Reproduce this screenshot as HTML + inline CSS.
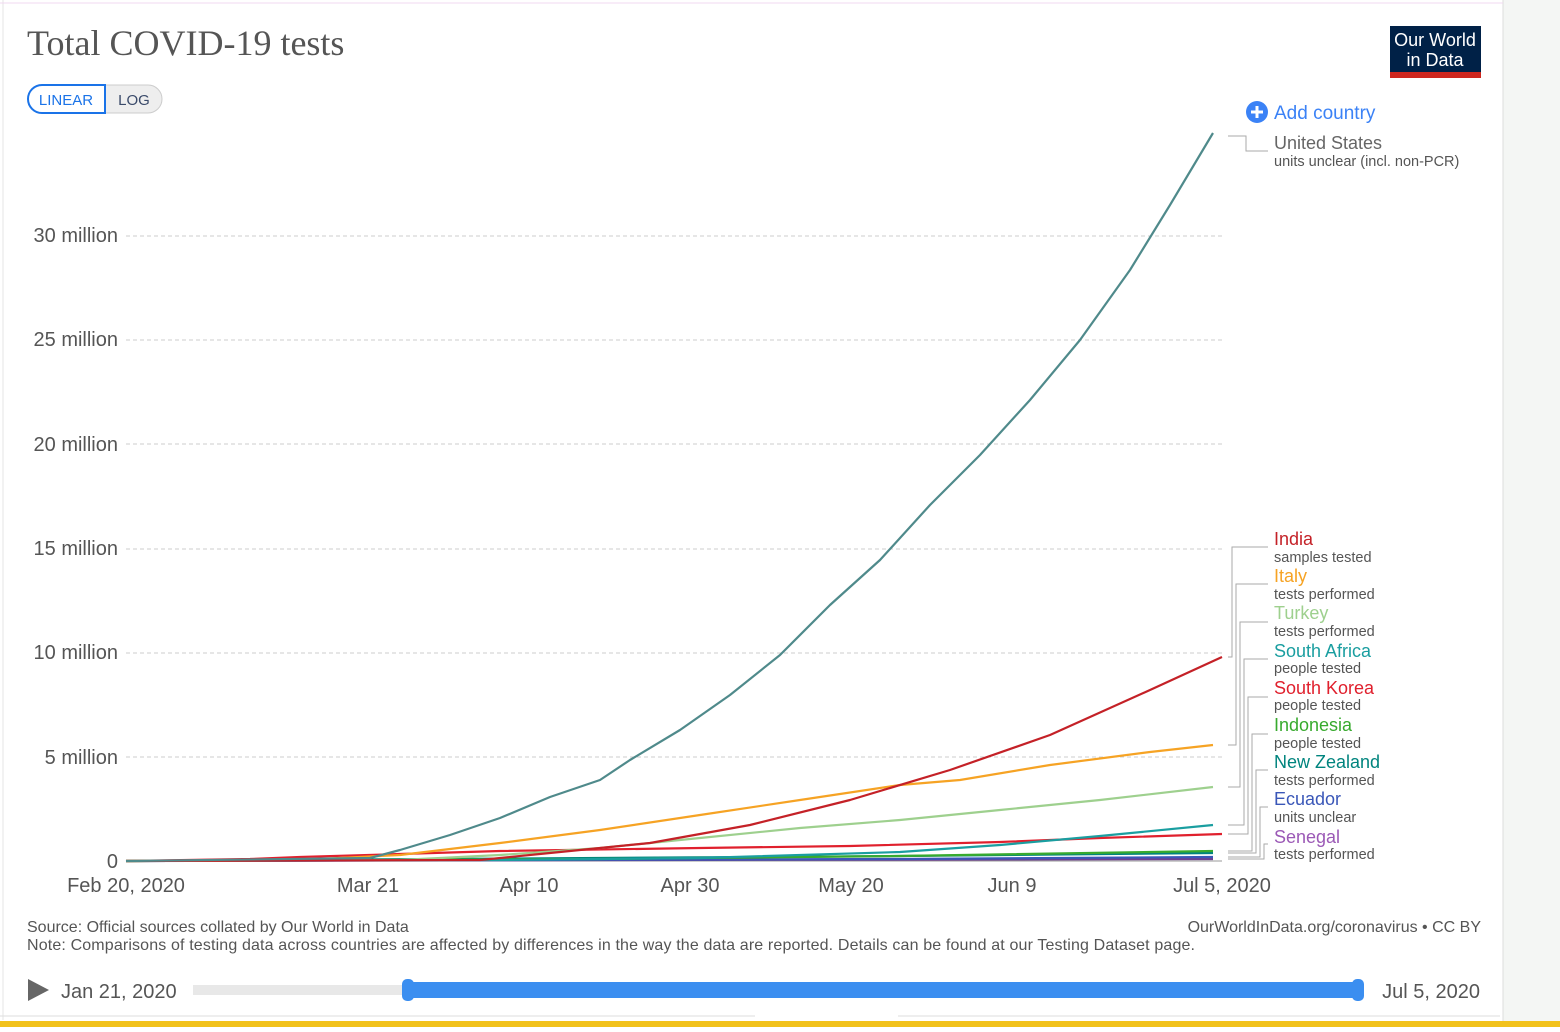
<!DOCTYPE html>
<html><head><meta charset="utf-8"><style>
body{margin:0;background:#fff;width:1560px;height:1027px;overflow:hidden;font-family:"Liberation Sans",sans-serif}
</style></head><body>
<svg width="1560" height="1027" xmlns="http://www.w3.org/2000/svg" font-family="Liberation Sans, sans-serif">
<rect x="0" y="0" width="1560" height="1027" fill="#fff"/>
<rect x="1503" y="0" width="57" height="1027" fill="#f4f6f4"/>
<line x1="1503" y1="0" x2="1503" y2="1027" stroke="#ddd"/>
<line x1="3" y1="0" x2="3" y2="1020" stroke="#e6e6e6"/>
<line x1="0" y1="3" x2="1503" y2="3" stroke="#f0d8f0"/>
<rect x="0" y="1021" width="1560" height="6" fill="#f2c21b"/>
<line x1="0" y1="1016" x2="755" y2="1016" stroke="#ddd"/>
<line x1="898" y1="1016" x2="1500" y2="1016" stroke="#ddd"/>
<text x="27" y="55" font-family="Liberation Serif, serif" font-size="36" fill="#555">Total COVID-19 tests</text>
<rect x="28" y="85" width="134" height="28" rx="14" fill="#eee" stroke="#ccc"/>
<path d="M42,85 H105 V113 H42 A14,14 0 0 1 42,85 Z" fill="#fff" stroke="#1a73e8" stroke-width="2"/>
<text x="66" y="105" font-size="15" fill="#1a73e8" text-anchor="middle">LINEAR</text>
<text x="134" y="105" font-size="15" fill="#3a4a6a" text-anchor="middle">LOG</text>
<rect x="1390" y="26" width="91" height="52" fill="#002147"/>
<rect x="1390" y="72" width="91" height="6" fill="#ce261e"/>
<text x="1435" y="46" font-size="18" fill="#fff" text-anchor="middle">Our World</text>
<text x="1435" y="66" font-size="18" fill="#fff" text-anchor="middle">in Data</text>
<circle cx="1257" cy="112" r="11" fill="#3b82f6"/>
<path d="M1251,112 H1263 M1257,106 V118" stroke="#fff" stroke-width="3"/>
<text x="1274" y="119" font-size="19" fill="#3b82f6">Add country</text>
<g stroke="#ccc" stroke-dasharray="4,3">
<line x1="126" y1="236" x2="1222" y2="236"/><line x1="126" y1="340" x2="1222" y2="340"/>
<line x1="126" y1="444" x2="1222" y2="444"/><line x1="126" y1="549" x2="1222" y2="549"/>
<line x1="126" y1="653" x2="1222" y2="653"/><line x1="126" y1="757" x2="1222" y2="757"/>
</g>
<g font-size="20" fill="#555" text-anchor="end">
<text x="118" y="242">30 million</text><text x="118" y="346">25 million</text>
<text x="118" y="451">20 million</text><text x="118" y="555">15 million</text>
<text x="118" y="659">10 million</text><text x="118" y="764">5 million</text>
<text x="118" y="868">0</text>
</g>
<line x1="126" y1="861" x2="1222" y2="861" stroke="#999"/>
<g font-size="20" fill="#555" text-anchor="middle">
<text x="126" y="892">Feb 20, 2020</text><text x="368" y="892">Mar 21</text>
<text x="529" y="892">Apr 10</text><text x="690" y="892">Apr 30</text>
<text x="851" y="892">May 20</text><text x="1012" y="892">Jun 9</text>
<text x="1222" y="892">Jul 5, 2020</text>
</g>
<g fill="none" stroke-width="2.2" stroke-linejoin="round">
<polyline stroke="#6d3e91" points="126,861 1213,859"/>
<polyline stroke="#3a57b8" points="126,861 900,859 1213,857"/>
<polyline stroke="#00847e" points="126,861 600,858 900,856 1213,853"/>
<polyline stroke="#38aa2e" points="126,861 600,859 900,856 1213,851"/>
<polyline stroke="#e0202d" points="126,861 250,859 300,857 400,854 500,851 700,848 850,846 1000,842 1100,838 1222,834"/>
<polyline stroke="#1a9ea0" points="126,861 500,860 700,858 900,852 1000,845 1100,836 1213,825"/>
<polyline stroke="#9ed08e" points="126,861 400,860 500,855 600,848 700,838 800,828 900,820 1000,810 1100,800 1213,787"/>
<polyline stroke="#f6a324" points="126,861 300,860 400,855 500,843 600,830 700,815 800,800 900,785 960,780 1050,765 1150,752 1213,745"/>
<polyline stroke="#c42127" points="126,861 480,860 560,852 650,843 750,825 850,800 950,770 1050,735 1150,690 1222,657"/>
<polyline stroke="#4f8a8b" points="126,861 370,858 400,850 450,835 500,818 550,797 600,780 630,760 680,730 730,695 780,655 830,605 880,560 930,505 980,455 1030,400 1080,340 1130,270 1170,205 1213,133"/>
</g>
<g fill="none" stroke="#aaa" stroke-width="1">
<polyline points="1228,136 1246,136 1246,151 1268,151"/>
<polyline points="1228,657 1232,657 1232,547 1268,547"/>
<polyline points="1228,745 1236,745 1236,584 1268,584"/>
<polyline points="1228,787 1240,787 1240,622 1268,622"/>
<polyline points="1228,825 1244,825 1244,659 1268,659"/>
<polyline points="1228,834 1248,834 1248,697 1268,697"/>
<polyline points="1228,851 1252,851 1252,734 1268,734"/>
<polyline points="1228,853 1256,853 1256,770 1268,770"/>
<polyline points="1228,857 1260,857 1260,807 1268,807"/>
<polyline points="1228,859 1264,859 1264,844 1268,844"/>
</g>
<g font-size="18">
<text x="1274" y="149" fill="#666">United States</text>
<text x="1274" y="545" fill="#c42127">India</text>
<text x="1274" y="582" fill="#f6a324">Italy</text>
<text x="1274" y="619" fill="#9ed08e">Turkey</text>
<text x="1274" y="657" fill="#1a9ea0">South Africa</text>
<text x="1274" y="694" fill="#e0202d">South Korea</text>
<text x="1274" y="731" fill="#38aa2e">Indonesia</text>
<text x="1274" y="768" fill="#00847e">New Zealand</text>
<text x="1274" y="805" fill="#3a57b8">Ecuador</text>
<text x="1274" y="843" fill="#9b59b6">Senegal</text>
</g>
<g font-size="14.5" fill="#555">
<text x="1274" y="166">units unclear (incl. non-PCR)</text>
<text x="1274" y="562">samples tested</text>
<text x="1274" y="599">tests performed</text>
<text x="1274" y="636">tests performed</text>
<text x="1274" y="673">people tested</text>
<text x="1274" y="710">people tested</text>
<text x="1274" y="748">people tested</text>
<text x="1274" y="785">tests performed</text>
<text x="1274" y="822">units unclear</text>
<text x="1274" y="859">tests performed</text>
</g>
<g font-size="16" fill="#555">
<text x="27" y="932">Source: Official sources collated by Our World in Data</text>
<text x="27" y="950" textLength="1168">Note: Comparisons of testing data across countries are affected by differences in the way the data are reported. Details can be found at our Testing Dataset page.</text>
<text x="1481" y="932" text-anchor="end">OurWorldInData.org/coronavirus • CC BY</text>
</g>
<path d="M28,979 L49,990 L28,1001 Z" fill="#666"/>
<text x="61" y="998" font-size="20" fill="#555">Jan 21, 2020</text>
<rect x="193" y="985" width="215" height="10" fill="#e8e8e8"/>
<rect x="408" y="982" width="950" height="16" fill="#3b8ef0"/>
<rect x="402" y="979" width="12" height="22" rx="5" fill="#3b8ef0"/>
<rect x="1352" y="979" width="12" height="22" rx="5" fill="#3b8ef0"/>
<text x="1480" y="998" font-size="20" fill="#555" text-anchor="end">Jul 5, 2020</text>
</svg>
</body></html>
